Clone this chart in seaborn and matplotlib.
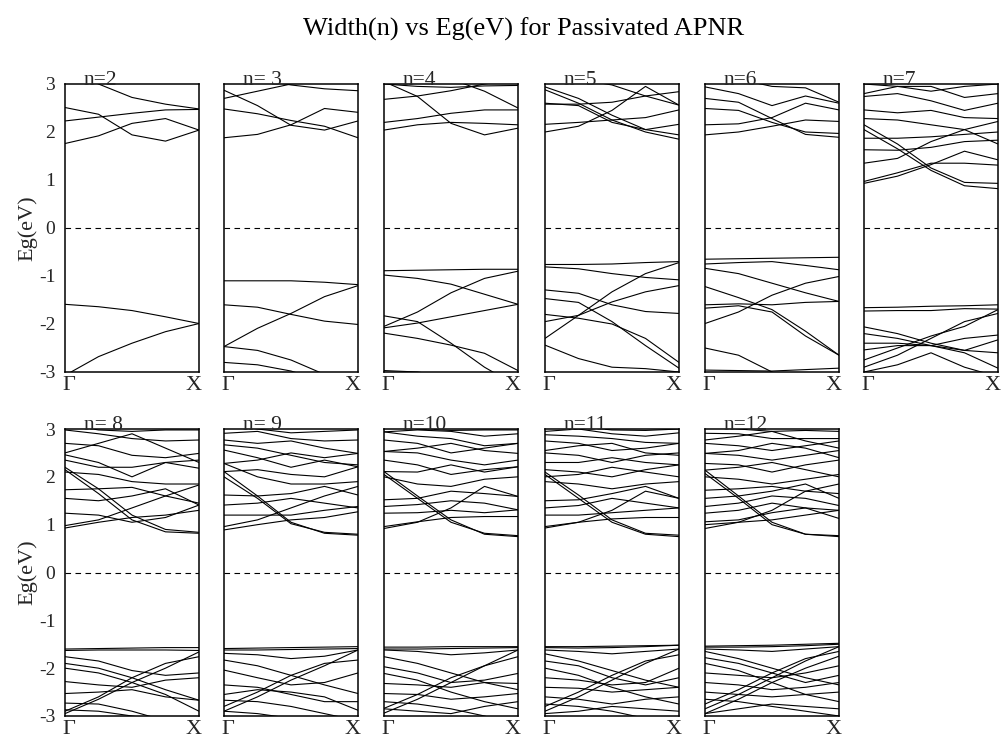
import matplotlib
matplotlib.use("Agg")
import matplotlib.pyplot as plt
import seaborn as sns
import pandas as pd

# ---------------- data ----------------
title_text = "Width(n) vs Eg(eV) for Passivated APNR"
panel_titles = ["n=2", "n= 3", "n=4", "n=5", "n=6", "n=7",
                "n= 8", "n= 9", "n=10", "n=11", "n=12"]
k_points = [0.0, 0.25, 0.5, 0.75, 1.0]
ytick_values = [-3, -2, -1, 0, 1, 2, 3]
ytick_labels = ["-3", "-2", "-1", "0", "1", "2", "3"]
k_labels = ["Γ", "X"]
y_label = "Eg(eV)"

bands_n2 = [
    [3.3, 3.0, 2.72, 2.58, 2.48],
    [2.51, 2.37, 1.94, 1.81, 2.04],
    [2.23, 2.31, 2.39, 2.46, 2.47],
    [1.76, 1.92, 2.18, 2.28, 2.04],
    [-1.59, -1.64, -1.72, -1.85, -1.99],
    [-3.07, -2.68, -2.40, -2.16, -1.99],
]
bands_n3 = [
    [3.3, 3.1, 2.98, 2.9, 2.86],
    [2.70, 2.85, 3.0, 3.1, 3.2],
    [2.87, 2.55, 2.14, 2.04, 2.23],
    [2.48, 2.38, 2.24, 2.12, 1.88],
    [1.88, 1.95, 2.15, 2.49, 2.41],
    [-1.10, -1.10, -1.10, -1.13, -1.18],
    [-2.47, -2.09, -1.78, -1.43, -1.20],
    [-1.60, -1.65, -1.80, -1.94, -2.01],
    [-2.47, -2.55, -2.75, -3.05, -3.3],
    [-2.80, -2.85, -2.98, -3.2, -3.4],
]
bands_n4 = [
    [3.05, 2.74, 2.18, 1.94, 2.08],
    [2.20, 2.28, 2.39, 2.46, 2.46],
    [2.04, 2.15, 2.20, 2.18, 2.15],
    [2.68, 2.75, 2.86, 3.0, 3.1],
    [3.4, 3.3, 3.1, 2.85, 2.5],
    [3.0, 2.95, 2.93, 2.96, 2.97],
    [-0.89, -0.88, -0.87, -0.86, -0.86],
    [-0.98, -1.05, -1.17, -1.38, -1.59],
    [-2.05, -1.75, -1.35, -1.05, -0.90],
    [-1.83, -1.95, -2.40, -2.90, -3.3],
    [-2.19, -2.30, -2.44, -2.61, -2.97],
    [-2.08, -1.98, -1.85, -1.72, -1.59],
    [-2.97, -3.0, -3.1, -3.2, -3.3],
]
bands_n5 = [
    [2.94, 2.70, 2.35, 2.05, 1.94],
    [2.88, 2.60, 2.25, 2.00, 1.85],
    [2.58, 2.58, 2.62, 2.75, 2.56],
    [2.00, 2.12, 2.45, 2.95, 2.56],
    [2.16, 2.20, 2.25, 2.30, 2.46],
    [2.60, 2.55, 2.20, 2.05, 2.16],
    [3.2, 3.1, 2.98, 2.75, 2.84],
    [-0.76, -0.76, -0.75, -0.72, -0.70],
    [-0.81, -0.85, -0.95, -1.03, -1.08],
    [-2.30, -1.82, -1.33, -0.95, -0.72],
    [-1.29, -1.36, -1.60, -1.74, -1.78],
    [-1.47, -1.55, -1.95, -2.45, -2.92],
    [-1.95, -1.82, -1.54, -1.33, -1.20],
    [-1.80, -1.88, -2.00, -2.30, -2.80],
    [-2.44, -2.72, -2.90, -2.93, -3.00],
]
bands_n6 = [
    [1.94, 2.00, 2.12, 2.25, 2.22],
    [2.15, 2.17, 2.30, 2.60, 2.46],
    [2.49, 2.45, 2.20, 2.00, 1.97],
    [2.70, 2.62, 2.28, 1.95, 1.89],
    [2.94, 2.80, 2.55, 2.75, 2.60],
    [3.2, 3.1, 2.95, 2.92, 2.62],
    [-0.65, -0.64, -0.63, -0.62, -0.61],
    [-0.75, -0.72, -0.70, -0.78, -0.87],
    [-0.84, -0.95, -1.15, -1.35, -1.53],
    [-1.99, -1.75, -1.40, -1.15, -1.01],
    [-1.22, -1.45, -1.70, -2.15, -2.65],
    [-1.67, -1.62, -1.75, -2.25, -2.65],
    [-1.60, -1.58, -1.60, -1.55, -1.53],
    [-2.50, -2.65, -3.0, -3.3, -3.5],
    [-2.96, -2.97, -2.98, -2.95, -2.92],
]
bands_n7 = [
    [0.97, 1.15, 1.35, 1.35, 1.31],
    [0.93, 1.08, 1.32, 1.60, 1.42],
    [2.05, 1.65, 1.20, 0.88, 0.82],
    [2.15, 1.75, 1.25, 0.95, 0.93],
    [1.63, 1.62, 1.68, 1.80, 1.83],
    [1.35, 1.45, 1.80, 2.05, 1.75],
    [1.87, 1.87, 1.90, 1.95, 2.00],
    [2.28, 2.25, 2.15, 2.05, 2.22],
    [2.46, 2.40, 2.45, 2.30, 2.28],
    [2.74, 2.80, 2.65, 2.45, 2.60],
    [2.80, 2.95, 2.95, 2.72, 2.80],
    [3.0, 2.95, 2.85, 2.95, 3.0],
    [-1.66, -1.65, -1.63, -1.62, -1.60],
    [-1.73, -1.72, -1.72, -1.68, -1.69],
    [-2.06, -2.20, -2.40, -2.55, -2.60],
    [-2.20, -2.30, -2.45, -2.55, -2.33],
    [-2.90, -2.65, -2.30, -1.95, -1.78],
    [-2.75, -2.50, -2.25, -2.05, -1.70],
    [-2.40, -2.40, -2.45, -2.60, -2.92],
    [-2.54, -2.45, -2.45, -2.30, -2.23],
    [-3.0, -2.85, -2.60, -2.90, -3.1],
]
bands_n8 = [
    [0.98, 1.10, 1.35, 1.60, 1.83],
    [0.93, 1.05, 1.15, 1.20, 1.30],
    [2.15, 1.65, 1.10, 0.85, 0.82],
    [2.20, 1.75, 1.20, 0.90, 0.84],
    [1.24, 1.20, 1.05, 1.15, 1.41],
    [1.55, 1.50, 1.60, 1.75, 1.41],
    [1.73, 1.75, 1.78, 1.60, 1.45],
    [2.10, 2.05, 1.90, 1.85, 1.85],
    [2.35, 2.20, 2.20, 2.30, 2.18],
    [2.46, 2.30, 2.00, 2.30, 2.35],
    [2.70, 2.65, 2.45, 2.40, 2.49],
    [2.50, 2.70, 2.90, 2.60, 2.30],
    [2.98, 2.90, 2.80, 2.75, 2.77],
    [3.1, 2.98, 2.95, 2.98, 2.98],
    [-1.60, -1.59, -1.58, -1.57, -1.57],
    [-1.63, -1.62, -1.62, -1.62, -1.63],
    [-1.76, -1.85, -2.05, -2.15, -2.10],
    [-1.90, -2.00, -2.20, -2.45, -2.67],
    [-2.00, -2.10, -2.30, -2.55, -2.90],
    [-2.90, -2.60, -2.20, -1.90, -1.76],
    [-2.95, -2.65, -2.30, -2.00, -1.66],
    [-2.28, -2.35, -2.40, -2.25, -2.20],
    [-2.53, -2.50, -2.45, -2.60, -2.67],
    [-2.73, -2.75, -2.90, -3.1, -3.3],
    [-2.87, -2.90, -3.0, -3.1, -3.2],
]
bands_n9 = [
    [0.96, 1.10, 1.35, 1.60, 1.80],
    [0.89, 1.00, 1.10, 1.15, 1.27],
    [2.11, 1.60, 1.05, 0.82, 0.78],
    [2.00, 1.55, 1.02, 0.84, 0.80],
    [1.20, 1.20, 1.20, 1.30, 1.38],
    [1.41, 1.45, 1.55, 1.45, 1.35],
    [1.62, 1.60, 1.65, 1.80, 1.62],
    [2.28, 2.00, 1.85, 1.85, 1.90],
    [2.11, 2.15, 2.05, 2.00, 2.21],
    [2.56, 2.40, 2.20, 2.35, 2.21],
    [2.28, 2.35, 2.50, 2.40, 2.49],
    [2.67, 2.60, 2.45, 2.30, 2.25],
    [2.77, 2.70, 2.75, 2.60, 2.49],
    [2.91, 2.95, 2.80, 2.75, 2.77],
    [3.1, 3.0, 2.92, 2.95, 2.98],
    [-1.59, -1.58, -1.57, -1.56, -1.55],
    [-1.62, -1.62, -1.61, -1.60, -1.59],
    [-1.69, -1.72, -1.80, -1.75, -1.62],
    [-1.83, -1.95, -2.15, -2.35, -2.53],
    [-2.04, -2.20, -2.35, -2.30, -2.10],
    [-2.80, -2.50, -2.15, -1.90, -1.83],
    [-2.90, -2.60, -2.25, -1.95, -1.62],
    [-2.35, -2.40, -2.55, -2.70, -2.70],
    [-2.67, -2.70, -2.80, -2.95, -3.1],
    [-2.55, -2.45, -2.50, -2.60, -2.88],
    [-2.90, -2.95, -3.05, -3.2, -3.3],
]
bands_n10 = [
    [0.92, 1.05, 1.35, 1.80, 1.59],
    [0.96, 1.06, 1.15, 1.17, 1.17],
    [2.11, 1.60, 1.10, 0.80, 0.75],
    [2.05, 1.55, 1.05, 0.82, 0.77],
    [1.24, 1.25, 1.30, 1.25, 1.31],
    [1.38, 1.42, 1.50, 1.45, 1.31],
    [1.52, 1.55, 1.70, 1.65, 1.59],
    [2.00, 1.85, 1.80, 1.95, 2.00],
    [2.11, 2.10, 2.25, 2.10, 2.21],
    [2.35, 2.25, 2.05, 2.15, 2.21],
    [2.53, 2.50, 2.35, 2.25, 2.35],
    [2.53, 2.60, 2.70, 2.55, 2.49],
    [2.77, 2.70, 2.50, 2.60, 2.70],
    [2.94, 2.85, 2.80, 2.65, 2.70],
    [2.94, 2.98, 2.95, 2.85, 2.90],
    [3.1, 3.0, 2.97, 2.98, 2.98],
    [-1.56, -1.56, -1.55, -1.55, -1.55],
    [-1.60, -1.60, -1.59, -1.58, -1.57],
    [-1.62, -1.65, -1.72, -1.68, -1.62],
    [-1.76, -1.90, -2.10, -2.30, -2.45],
    [-1.97, -2.10, -2.30, -2.25, -2.11],
    [-2.11, -2.25, -2.50, -2.70, -2.85],
    [-2.32, -2.35, -2.40, -2.30, -2.32],
    [-2.84, -2.55, -2.20, -1.95, -1.76],
    [-2.94, -2.65, -2.30, -1.95, -1.62],
    [-2.53, -2.55, -2.65, -2.60, -2.53],
    [-2.70, -2.75, -2.85, -3.0, -3.2],
    [-2.85, -2.90, -2.95, -2.80, -2.70],
]
bands_n11 = [
    [0.93, 1.05, 1.30, 1.70, 1.55],
    [0.96, 1.05, 1.12, 1.15, 1.15],
    [2.05, 1.55, 1.05, 0.80, 0.75],
    [2.10, 1.62, 1.10, 0.82, 0.78],
    [1.20, 1.20, 1.25, 1.30, 1.35],
    [1.35, 1.40, 1.55, 1.45, 1.35],
    [1.50, 1.52, 1.65, 1.80, 1.55],
    [1.90, 1.85, 1.75, 1.85, 1.90],
    [2.00, 2.05, 2.20, 2.10, 2.00],
    [2.15, 2.10, 2.00, 2.15, 2.25],
    [2.30, 2.30, 2.40, 2.30, 2.25],
    [2.50, 2.45, 2.30, 2.45, 2.50],
    [2.55, 2.65, 2.70, 2.50, 2.45],
    [2.75, 2.70, 2.55, 2.60, 2.70],
    [2.88, 2.85, 2.80, 2.72, 2.70],
    [2.95, 3.0, 2.90, 2.85, 2.92],
    [3.1, 3.05, 2.98, 2.97, 3.0],
    [-1.55, -1.55, -1.54, -1.53, -1.52],
    [-1.57, -1.58, -1.57, -1.55, -1.52],
    [-1.62, -1.65, -1.70, -1.65, -1.60],
    [-1.70, -1.85, -2.05, -2.25, -2.40],
    [-1.85, -1.95, -2.20, -2.35, -2.20],
    [-2.00, -2.15, -2.40, -2.60, -2.75],
    [-2.20, -2.25, -2.35, -2.30, -2.00],
    [-2.40, -2.42, -2.50, -2.45, -2.40],
    [-2.80, -2.50, -2.15, -1.85, -1.72],
    [-2.90, -2.60, -2.25, -1.90, -1.60],
    [-2.60, -2.65, -2.75, -2.65, -2.60],
    [-2.75, -2.80, -2.90, -3.05, -3.2],
    [-2.95, -2.90, -2.80, -2.85, -2.90],
]
bands_n12 = [
    [0.92, 1.05, 1.30, 1.70, 1.85],
    [1.00, 1.05, 1.10, 1.20, 1.30],
    [2.14, 1.60, 1.05, 0.80, 0.75],
    [2.07, 1.55, 1.00, 0.80, 0.77],
    [1.06, 1.10, 1.25, 1.35, 1.30],
    [1.24, 1.30, 1.45, 1.35, 1.13],
    [1.38, 1.45, 1.60, 1.55, 1.40],
    [1.55, 1.60, 1.70, 1.85, 1.55],
    [1.72, 1.75, 1.80, 1.70, 1.65],
    [2.00, 1.95, 1.85, 1.95, 2.05],
    [2.14, 2.20, 2.30, 2.15, 2.00],
    [2.28, 2.25, 2.10, 2.25, 2.35],
    [2.49, 2.45, 2.35, 2.45, 2.55],
    [2.49, 2.55, 2.70, 2.60, 2.40],
    [2.70, 2.65, 2.55, 2.65, 2.75],
    [2.77, 2.85, 2.95, 2.75, 2.60],
    [2.91, 2.90, 2.80, 2.80, 2.80],
    [3.05, 3.0, 2.95, 2.97, 2.95],
    [-1.54, -1.53, -1.52, -1.50, -1.48],
    [-1.56, -1.56, -1.55, -1.53, -1.50],
    [-1.60, -1.62, -1.65, -1.60, -1.55],
    [-1.65, -1.80, -2.00, -2.20, -2.35],
    [-1.78, -1.90, -2.10, -2.30, -2.15],
    [-1.90, -2.05, -2.30, -2.55, -2.70],
    [-2.10, -2.15, -2.20, -2.10, -1.95],
    [-2.30, -2.35, -2.45, -2.40, -2.30],
    [-2.75, -2.45, -2.10, -1.80, -1.65],
    [-2.85, -2.55, -2.20, -1.85, -1.55],
    [-2.95, -2.65, -2.30, -2.00, -1.75],
    [-2.50, -2.55, -2.60, -2.55, -2.50],
    [-2.65, -2.70, -2.80, -2.90, -3.0],
    [-2.95, -2.85, -2.75, -2.80, -2.85],
]

panel_bands = [bands_n2, bands_n3, bands_n4, bands_n5, bands_n6, bands_n7,
               bands_n8, bands_n9, bands_n10, bands_n11, bands_n12]

# ---------------- style ----------------
sns.set_theme(style="white")
plt.rcParams["font.family"] = ["Liberation Serif", "DejaVu Serif"]

W, H = 1004, 742
fig = plt.figure(figsize=(W / 100, H / 100), dpi=100)
fig.patch.set_facecolor("white")

col_left_px = [65, 224, 384, 545, 705, 864]
panel_w_px = 134
row_top_px = [84, 429]
panel_h_px = [288, 287]

fig.text(524 / W, 1 - 36 / H, title_text, ha="center", va="baseline",
         fontsize=19, color="black")

for i, bands in enumerate(panel_bands):
    row, col = divmod(i, 6)
    left = col_left_px[col] / W
    bottom = 1 - (row_top_px[row] + panel_h_px[row]) / H
    ax = fig.add_axes([left, bottom, panel_w_px / W, panel_h_px[row] / H])

    records = []
    for b, vals in enumerate(bands):
        for kk, e in zip(k_points, vals):
            records.append({"band": b, "k": kk, "E": e})
    df = pd.DataFrame(records)
    sns.lineplot(data=df, x="k", y="E", units="band", estimator=None,
                 color="black", lw=0.8, ax=ax, legend=False)
    ax.axhline(0, color="black", lw=0.8, ls=(0, (5, 4)))

    ax.set_xlim(0, 1)
    ax.set_ylim(-3, 3)
    ax.set_xticks([])
    ax.set_yticks(ytick_values)
    ax.tick_params(axis="y", length=0, pad=7, labelsize=14)
    ax.set_xlabel("")
    if col == 0:
        ax.set_yticklabels(ytick_labels)
        ax.set_ylabel(y_label, fontsize=16, labelpad=1)
    else:
        ax.set_yticklabels([])
        ax.set_ylabel("")
    for s in ax.spines.values():
        s.set_visible(True)
        s.set_color("black")
        s.set_linewidth(1.1)
    ax.set_facecolor("white")

    ax.text(0.14, 0.998, panel_titles[i], transform=ax.transAxes,
            ha="left", va="baseline", fontsize=15.5)
    ax.text(-0.02, -0.015, k_labels[0], transform=ax.transAxes,
            ha="left", va="top", fontsize=16)
    ax.text(1.02, -0.015, k_labels[1], transform=ax.transAxes,
            ha="right", va="top", fontsize=16)

fig.savefig("out.png", dpi=100, facecolor="white")
